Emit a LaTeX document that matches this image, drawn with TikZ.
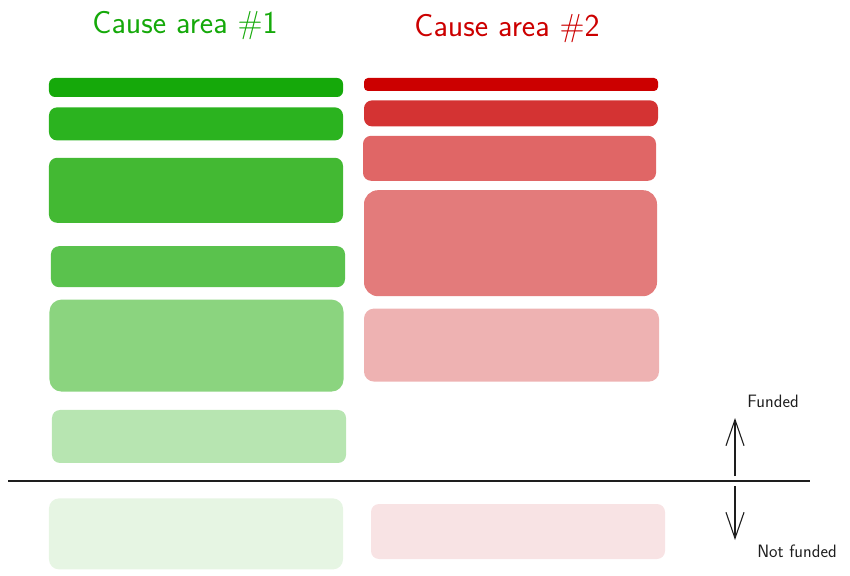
\documentclass[tikz,border=0pt]{standalone}
\usepackage{fontspec}
\usetikzlibrary{positioning, arrows.meta}

\definecolor{gA}{HTML}{15A90A}
\definecolor{gB}{HTML}{2BB31F}
\definecolor{gC}{HTML}{43B933}
\definecolor{gD}{HTML}{5AC24D}
\definecolor{gE}{HTML}{8BD47F}
\definecolor{gF}{HTML}{B7E5B1}
\definecolor{gG}{HTML}{E6F5E3}
\definecolor{rA}{HTML}{CC0000}
\definecolor{rB}{HTML}{D43333}
\definecolor{rC}{HTML}{E06666}
\definecolor{rD}{HTML}{E37B7B}
\definecolor{rE}{HTML}{EEB2B2}
\definecolor{rF}{HTML}{F8E3E4}
\definecolor{ink}{HTML}{1E1E1E}

\tikzset{
  bar/.style={inner sep=0pt, minimum width=294bp, rounded corners=8bp},
  title/.style={font=\sffamily\fontsize{32}{35}\selectfont},
  side/.style={font=\sffamily\fontsize{18}{20}\selectfont, text=ink}
}

\begin{document}
\begin{tikzpicture}[x=1bp, y=-1bp]
        \useasboundingbox (0,0) rectangle (850,576);

        \node[title, text=gA] (T1) at (185,26) {Cause area \#1};
        \node[title, text=rA] (T2) at (507,29) {Cause area \#2};

        % cause area 1
        \node[bar, fill=gA, minimum height=19bp, rounded corners=6bp] (G1) at (196,87.5) {};
        \node[bar, fill=gB, minimum height=33bp] (G2) [below=10bp of G1] {};
        \node[bar, fill=gC, minimum height=65bp] (G3) [below=17bp of G2] {};
        \node[bar, fill=gD, minimum height=41bp] (G4) [below=23bp of G3, xshift=2bp] {};
        \node[bar, fill=gE, minimum height=92bp, rounded corners=12bp] (G5) [below=12bp of G4, xshift=-1.5bp] {};
        \node[bar, fill=gF, minimum height=53bp] (G6) [below=18bp of G5, xshift=2.5bp] {};
        \node[bar, fill=gG, minimum height=71bp, rounded corners=10bp] (G7) [below=35bp of G6, xshift=-3bp] {};

        % cause area 2
        \node[bar, fill=rA, minimum height=13bp, rounded corners=4bp] (R1) at (511,84.5) {};
        \node[bar, fill=rB, minimum height=26bp] (R2) [below=9bp of R1] {};
        \node[bar, fill=rC, minimum height=45bp, minimum width=293bp] (R3) [below=9bp of R2, xshift=-1.5bp] {};
        \node[bar, fill=rD, minimum height=106bp, minimum width=293bp, rounded corners=14bp] (R4) [below=9bp of R3, xshift=1bp] {};
        \node[bar, fill=rE, minimum height=73bp, minimum width=295bp, rounded corners=10bp] (R5) [below=12bp of R4, xshift=1bp] {};
        \node[bar, fill=rF, minimum height=55bp] (R6) [below=122bp of R5, xshift=6.5bp] {};

        % funding cut
        \coordinate (cutL) at (8,481);
        \coordinate (cutR) at (810,481);
        \draw[ink, line width=1.4bp] (cutL) -- (cutR);

        \coordinate (upA) at (735,476);
        \coordinate (upB) at (735,418);
        \coordinate (dnA) at (735,486);
        \coordinate (dnB) at (735,540);
        \draw[ink, line width=1.1bp, -{Straight Barb[length=26bp, width=18bp]}] (upA) -- (upB);
        \draw[ink, line width=1.1bp, -{Straight Barb[length=26bp, width=18bp]}] (dnA) -- (dnB);

        \node[side] (F) at (773,401) {Funded};
        \node[side] (NF) at (797,551) {Not funded};
    \end{tikzpicture}
\end{document}
